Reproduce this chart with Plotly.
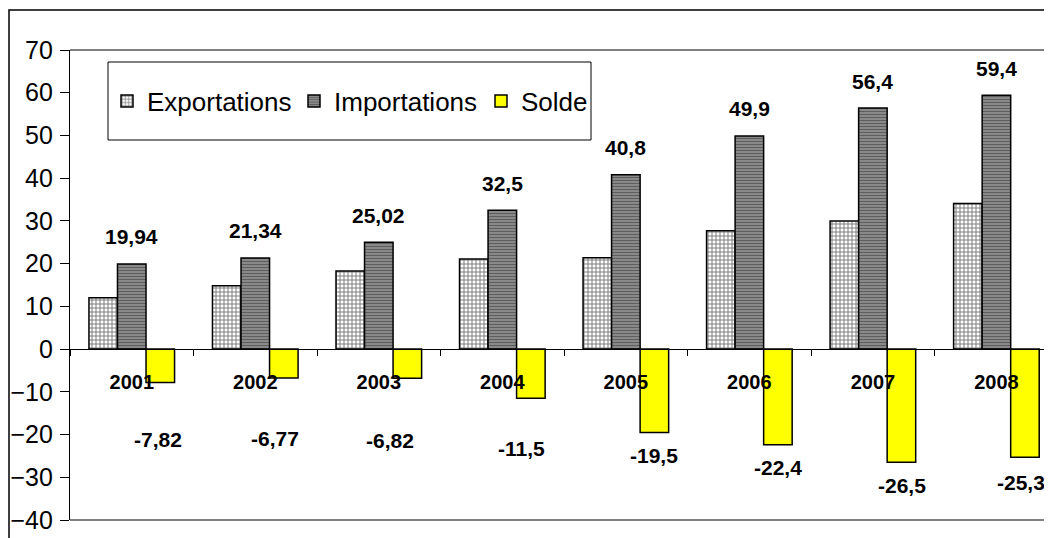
import plotly.graph_objects as go

years = ["2001", "2002", "2003", "2004", "2005", "2006", "2007", "2008"]
exportations = [12.0, 14.8, 18.3, 21.1, 21.4, 27.7, 30.0, 34.1]
importations = [19.94, 21.34, 25.02, 32.5, 40.8, 49.9, 56.4, 59.4]
solde = [-7.82, -6.77, -6.82, -11.5, -19.5, -22.4, -26.5, -25.3]

# label placement (pixels) for the Solde value labels
solde_label_dx = [-2, -9, -17, -9, 0, 0, 1, -4]
solde_label_dy = [57, 60, 62, 50, 23, 23, 23, 25]

FONT = "Liberation Sans, Arial, sans-serif"
OFF = 8  # page body margin

def fmt(v):
    return ("%g" % v).replace(".", ",")

fig = go.Figure()
fig.add_trace(go.Bar(
    x=years, y=exportations, name="Exportations",
    marker=dict(color="white", line=dict(color="black", width=1.5),
                pattern=dict(shape="+", fgcolor="#000000", bgcolor="white", size=4, solidity=0.45)),
))
fig.add_trace(go.Bar(
    x=years, y=importations, name="Importations",
    marker=dict(color="#808080", line=dict(color="black", width=1.5),
                pattern=dict(shape="-", fgcolor="#2a2a2a", bgcolor="#929292", size=3, solidity=0.45)),
))
fig.add_trace(go.Bar(
    x=years, y=solde, name="Solde",
    marker=dict(color="#FFFF00", line=dict(color="black", width=1.5)),
))

annotations = []
bar_px = 123.5 * (1 - 0.307) / 3
for i in range(len(years)):
    annotations.append(dict(x=i, y=importations[i], xref="x", yref="y", text="<b>%s</b>" % fmt(importations[i]),
                            showarrow=False, yshift=27, yanchor="middle",
                            font=dict(family=FONT, size=21, color="black")))
    annotations.append(dict(x=i, y=solde[i], xref="x", yref="y", text="<b>%s</b>" % fmt(solde[i]),
                            showarrow=False, yshift=-solde_label_dy[i], xshift=bar_px + solde_label_dx[i],
                            yanchor="middle",
                            font=dict(family=FONT, size=21, color="black")))

shapes = [
    # plot area top and bottom border
    dict(type="line", xref="paper", yref="paper", x0=0, x1=1.01, y0=1, y1=1, line=dict(color="#808080", width=2)),
    dict(type="line", xref="paper", yref="paper", x0=0, x1=1.01, y0=0, y1=0, line=dict(color="#808080", width=2)),
    # outer chart border
    dict(type="rect", xref="paper", yref="paper", x0=(9 - 70) / 982, x1=1.05, y0=-0.2, y1=(520 - 10) / 470,
         line=dict(color="black", width=1.5), layer="below"),
    # legend box
    dict(type="rect", xref="paper", yref="paper", x0=(108 - 70) / 982, x1=(591 - 70) / 982,
         y0=(520 - 140) / 470, y1=(520 - 62) / 470, line=dict(color="black", width=1),
         fillcolor="white", layer="below"),
]

fig.update_layout(
    width=1052, height=538,
    margin=dict(l=70 - OFF, r=OFF, t=50 - OFF, b=538 - (520 - OFF), autoexpand=False),
    paper_bgcolor="white", plot_bgcolor="rgba(0,0,0,0)",
    barmode="group", bargap=0.307, bargroupgap=0,
    font=dict(family=FONT, color="black"),
    showlegend=True,
    legend=dict(orientation="h", x=(107 - 70) / 982, y=(520 - 101) / 470, xanchor="left", yanchor="middle",
                bgcolor="rgba(0,0,0,0)", borderwidth=0, font=dict(size=26, family=FONT),
                entrywidth=142, itemwidth=30),
    annotations=annotations,
    shapes=shapes,
    xaxis=dict(type="category", range=[-0.5, 7.45], anchor="free", position=40 / 110, automargin=False,
               showline=True, linecolor="black", linewidth=1.2,
               ticks="outside", tickson="boundaries", ticklen=6, tickcolor="black",
               tickfont=dict(family=FONT, size=20, color="black"), tickprefix="<b>", ticksuffix="</b>",
               ticklabelstandoff=15, showgrid=False, zeroline=False),
    yaxis=dict(range=[-40, 70], dtick=10, showline=True, linecolor="black", linewidth=1.2, automargin=False,
               ticks="outside", ticklen=9, tickcolor="black", showgrid=False, zeroline=False,
               tickfont=dict(family=FONT, size=25, color="black"), ticklabelstandoff=2),
)

fig.write_html("out.html")
